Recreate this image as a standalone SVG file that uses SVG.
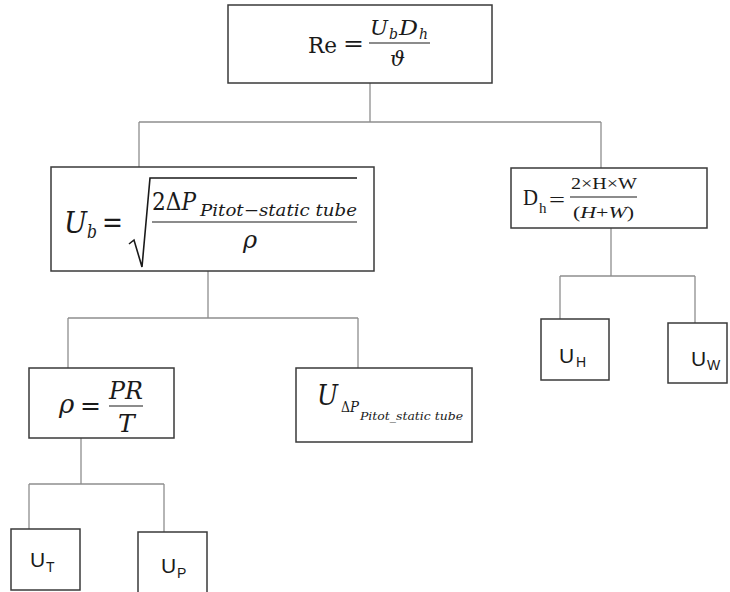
<svg xmlns="http://www.w3.org/2000/svg" width="730" height="592" viewBox="0 0 730 592">
<style>
.box{fill:#fff;stroke:#3a3a3a;stroke-width:1.5}
.con{fill:none;stroke:#8e8e8e;stroke-width:1.3}
.m{font-family:"DejaVu Serif","Liberation Serif",serif;fill:#1a1a1a}
.i{font-style:italic}
.t{font-family:"Liberation Serif","Times New Roman",serif;fill:#1a1a1a}
.s{font-family:"Liberation Sans",Arial,sans-serif;fill:#1a1a1a}
.bar{stroke:#1a1a1a;stroke-width:1.1}
</style>
<rect width="730" height="592" fill="#fff"/>
<g id="connectors">
<path class="con" d="M370,83V122M139,122H601M139,122V167M601,122V168"/>
<path class="con" d="M208,271V318M68,318H358M68,318V368M358,318V368"/>
<path class="con" d="M611,228V276M560,276H695M560,276V323M695,276V323"/>
<path class="con" d="M81,438V484M29,484H164M29,484V532M164,484V532"/>
</g>
<g id="re">
<rect class="box" x="228" y="5" width="264" height="78"/>
<text class="m" x="308" y="53" font-size="23" textLength="29" lengthAdjust="spacingAndGlyphs">Re</text>
<text class="m" x="343" y="51" font-size="23" textLength="21" lengthAdjust="spacingAndGlyphs">=</text>
<line class="bar" x1="369" y1="43" x2="430" y2="43"/>
<text class="m i" x="370" y="35" font-size="21" textLength="18" lengthAdjust="spacingAndGlyphs">U</text>
<text class="m i" x="389" y="39" font-size="14">b</text>
<text class="m i" x="399" y="35" font-size="21" textLength="19" lengthAdjust="spacingAndGlyphs">D</text>
<text class="m i" x="419" y="39" font-size="14">h</text>
<text class="m i" x="390" y="66" font-size="21">ϑ</text>
</g>
<g id="ub">
<rect class="box" x="51" y="167" width="323" height="104"/>
<text class="m i" x="64" y="233" font-size="29" textLength="23" lengthAdjust="spacingAndGlyphs">U</text>
<text class="m i" x="87" y="238" font-size="19" textLength="10" lengthAdjust="spacingAndGlyphs">b</text>
<text class="m" x="102" y="232" font-size="29" textLength="21" lengthAdjust="spacingAndGlyphs">=</text>
<path d="M129,244L134,240L142,267L150,178H357" fill="none" stroke="#1a1a1a" stroke-width="1.6"/>
<text class="m" x="152" y="210" font-size="24"><tspan textLength="44" lengthAdjust="spacingAndGlyphs">2Δ<tspan font-style="italic">P</tspan></tspan><tspan x="200" y="216" font-size="17" font-style="italic" textLength="157" lengthAdjust="spacingAndGlyphs">Pitot−static tube</tspan></text>
<line class="bar" x1="152" y1="222" x2="357" y2="222"/>
<text class="m i" x="243" y="248" font-size="24">ρ</text>
</g>
<g id="dh">
<rect class="box" x="511" y="168" width="196" height="60"/>
<text class="t" x="523" y="205" font-size="23" textLength="15" lengthAdjust="spacingAndGlyphs">D</text>
<text class="t" x="539" y="213" font-size="15">h</text>
<text class="t" x="549" y="207" font-size="22" textLength="16" lengthAdjust="spacingAndGlyphs">=</text>
<text class="t" x="571" y="189" font-size="16" textLength="66" lengthAdjust="spacingAndGlyphs">2×H×W</text>
<line class="bar" x1="570" y1="197" x2="637" y2="197"/>
<text class="t" x="573" y="218" font-size="16" textLength="61" lengthAdjust="spacingAndGlyphs">(<tspan font-style="italic">H</tspan>+<tspan font-style="italic">W</tspan>)</text>
</g>
<g id="rho">
<rect class="box" x="29" y="368" width="145" height="70"/>
<text class="m i" x="59" y="413" font-size="26">ρ</text>
<text class="m" x="80" y="415" font-size="26" textLength="21" lengthAdjust="spacingAndGlyphs">=</text>
<line class="bar" x1="109" y1="406" x2="143" y2="406"/>
<text class="m i" x="109" y="399" font-size="25" textLength="34" lengthAdjust="spacingAndGlyphs">PR</text>
<text class="m i" x="118" y="432" font-size="25">T</text>
</g>
<g id="udp">
<rect class="box" x="296" y="368" width="176" height="74"/>
<text class="m i" x="317" y="405" font-size="28" textLength="21" lengthAdjust="spacingAndGlyphs">U</text>
<text class="m" x="341" y="412" font-size="14" textLength="9" lengthAdjust="spacingAndGlyphs">Δ</text>
<text class="m i" x="350" y="412" font-size="14" textLength="9" lengthAdjust="spacingAndGlyphs">P</text>
<text class="m i" x="360" y="420" font-size="11" textLength="103" lengthAdjust="spacingAndGlyphs">Pitot_static tube</text>
</g>
<g id="ut">
<rect class="box" x="11" y="529" width="69" height="61"/>
<text class="s" x="30" y="567" font-size="21">U</text>
<text class="s" x="46" y="572" font-size="14">T</text>
</g>
<g id="up">
<rect class="box" x="138" y="532" width="69" height="64"/>
<text class="s" x="161" y="573" font-size="21">U</text>
<text class="s" x="177" y="578" font-size="14">P</text>
</g>
<g id="uh">
<rect class="box" x="541" y="319" width="68" height="61"/>
<text class="s" x="559" y="363" font-size="21">U</text>
<text class="s" x="576" y="367" font-size="14">H</text>
</g>
<g id="uw">
<rect class="box" x="668" y="323" width="59" height="60"/>
<text class="s" x="691" y="366" font-size="21">U</text>
<text class="s" x="707" y="370" font-size="14">W</text>
</g>
</svg>
